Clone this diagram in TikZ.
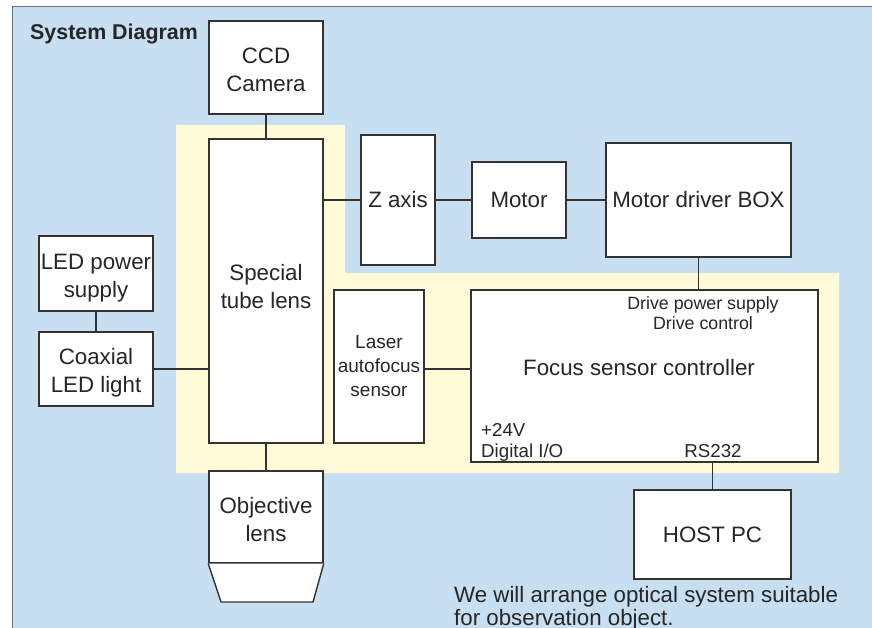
\documentclass[tikz,border=0pt]{standalone}
\usepackage{fontspec}
\setmainfont{Liberation Sans}
\definecolor{bg}{RGB}{200,223,242}
\definecolor{yel}{RGB}{255,250,215}
\definecolor{ln}{RGB}{51,51,51}
\definecolor{txt}{RGB}{38,38,38}
\definecolor{frame}{RGB}{110,110,115}
\begin{document}
\begin{tikzpicture}[x=1pt,y=-1pt,
  box/.style={draw=ln,line width=1.4pt,fill=white,inner sep=0pt,text=txt,align=center,
    font=\fontsize{22.3}{28}\selectfont},
  conn/.style={draw=ln,line width=1.2pt},
  lbl/.style={inner sep=0pt,text=txt},
  big/.style={lbl,align=center,font=\fontsize{22.3}{28}\selectfont},
  small/.style={lbl,font=\fontsize{17.8}{20}\selectfont},
  mid/.style={lbl,font=\fontsize{18.7}{21}\selectfont}]
\useasboundingbox (0,0) rectangle (872,628);
% panels
\fill[bg] (12,6) rectangle (872,628);
\draw[frame,line width=1.6pt] (12.5,628) -- (12.5,6.5) -- (872,6.5);
\fill[yel] (176,125) -- (345,125) -- (345,273) -- (839,273) -- (839,473) -- (176,473) -- cycle;
% title
\node[lbl,anchor=base west,font=\fontsize{21.4}{24}\selectfont\bfseries] (title) at (30,40) {System Diagram};
% boxes
\node[box,minimum width=114,minimum height=93] (ccd) at (266,67.5) {};
\node[big] (ccdt) at (266,69.5) {CCD\\Camera};
\node[box,minimum width=114,minimum height=304] (tube) at (266,291) {};
\node[big] (tubet) at (266,287) {Special\\tube lens};
\node[box,minimum width=74,minimum height=130] (zaxis) at (398,200) {Z axis};
\node[box,minimum width=94,minimum height=76] (motor) at (519,200) {Motor};
\node[box,minimum width=185,minimum height=114] (mdb) at (698.5,200) {Motor driver BOX};
\node[box,minimum width=347,minimum height=172] (fsc) at (644.5,376) {};
\node[big] (fsct) at (639,368) {Focus sensor controller};
\node[box,minimum width=90,minimum height=153,font=\fontsize{19}{24}\selectfont] (laser) at (379,366.5) {Laser\\autofocus\\sensor};
\node[box,minimum width=114,minimum height=75] (ledps) at (96,273.5) {};
\node[big] (ledpst) at (96,278) {LED power\\supply};
\node[box,minimum width=114,minimum height=74] (coax) at (96,369) {};
\node[big] (coaxt) at (96,373) {Coaxial\\LED light};
\node[box,minimum width=114,minimum height=92] (obj) at (266,517) {};
\node[big] (objt) at (266,520) {Objective\\lens};
\node[box,minimum width=157,minimum height=89] (host) at (712.5,534.5) {HOST PC};
% objective tip
\draw[draw=ln,line width=1.4pt,fill=white] (obj.south west) -- (221,602) -- (313,602) -- (obj.south east);
% labels inside controller
\node[small,align=center] (drv) at (703,313) {Drive power supply\\Drive control};
\node[mid,anchor=base west] (v24) at (481,436) {+24V};
\node[mid,anchor=base west] (dio) at (481,457) {Digital I/O};
\node[mid,anchor=base] (rs) at (713,457) {RS232};
% note
\node[lbl,anchor=base west,font=\fontsize{22.3}{28}\selectfont] (note1) at (454,602) {We will arrange optical system suitable};
\node[lbl,anchor=base west,font=\fontsize{22.3}{28}\selectfont] (note2) at (454,625) {for observation object.};
% connectors
\draw[conn] (ccd.south) -- (tube.north);
\draw[conn] (tube.south) -- (obj.north);
\draw[conn] (tube.east |- zaxis.west) -- (zaxis.west);
\draw[conn] (zaxis.east) -- (motor.west);
\draw[conn] (motor.east) -- (mdb.west);
\draw[conn] (mdb.south) -- (mdb.south |- fsc.north);
\draw[conn] (laser.east |- 0,369) -- (fsc.west |- 0,369);
\draw[conn] (coax.east) -- (coax.east -| tube.west);
\draw[conn] (ledps.south) -- (coax.north);
\draw[conn] (host.north) -- (host.north |- fsc.south);
\end{tikzpicture}
\end{document}
